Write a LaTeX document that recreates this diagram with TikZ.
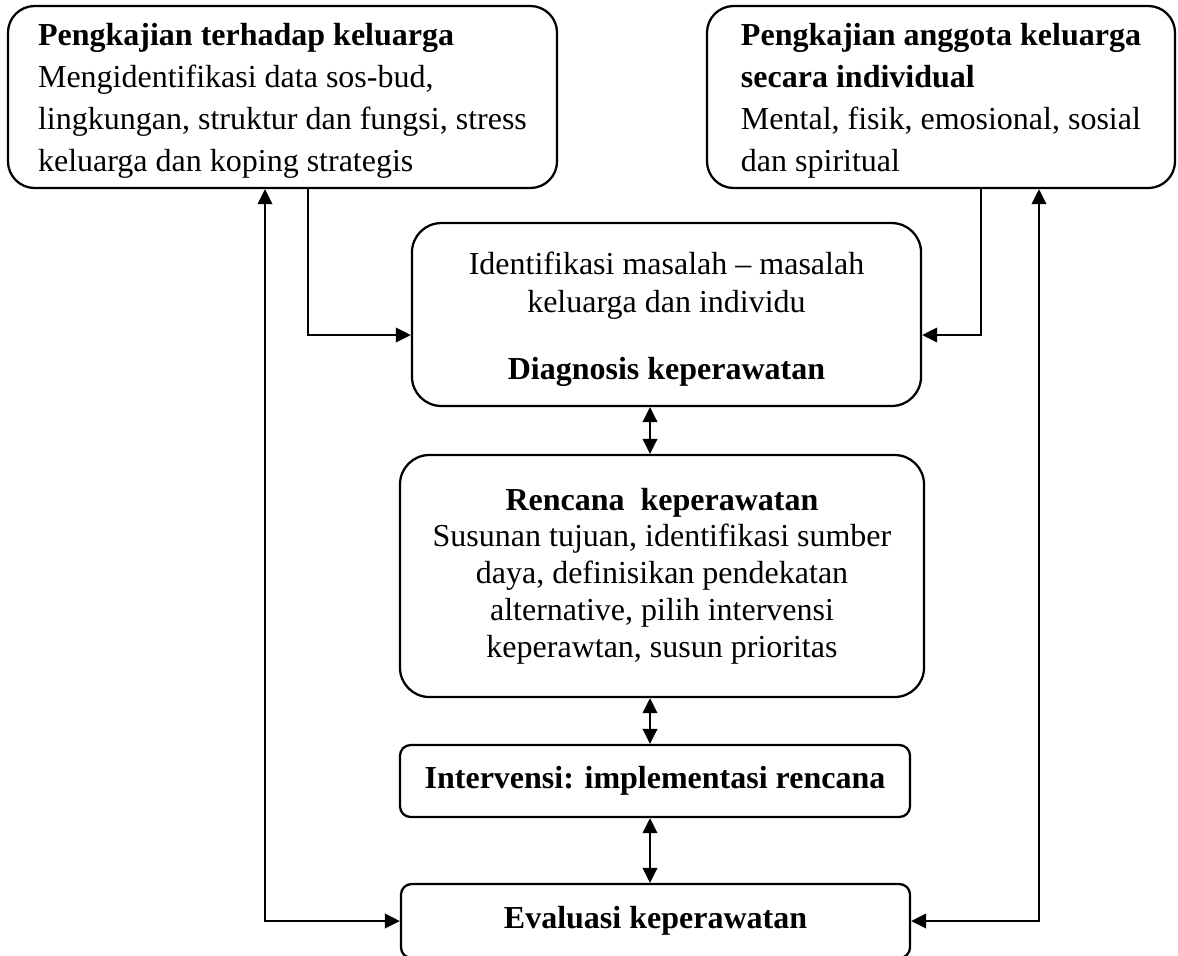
\documentclass[tikz,border=0pt]{standalone}
\usepackage{fontspec}
\setmainfont{Liberation Serif}
\usetikzlibrary{arrows.meta}

\begin{document}
\begin{tikzpicture}[
    x=0.375pt, y=-0.375pt,
    every node/.style={font=\fontsize{12}{13.8}\selectfont},
    loose/.style={font=\fontsize{12}{15.7}\selectfont},
    bigbox/.style={draw, line width=0.85pt, rounded corners=10pt, inner sep=0pt, align=left},
    midbox/.style={draw, line width=0.85pt, rounded corners=11pt, inner sep=0pt, align=center},
    flatbox/.style={draw, line width=0.85pt, rounded corners=4pt, inner sep=0pt, align=center},
    tip/.style={Triangle[length=5.6pt,width=5.4pt]},
    link/.style={line width=0.9pt, -{Triangle[length=5.6pt,width=5.4pt]}},
    twoway/.style={line width=0.9pt, {Triangle[length=5.6pt,width=5.4pt]}-{Triangle[length=5.6pt,width=5.4pt]}}
]
\useasboundingbox (0,0) rectangle (1178,955);
\clip (0,0) rectangle (1178,955);

% assessment boxes
\node[bigbox, loose, minimum width=205.9pt, minimum height=68.25pt] (A) at (282.5,97)
  {\rule{0pt}{11pt}\textbf{Pengkajian terhadap keluarga}\\
   Mengidentifikasi data sos-bud,\\
   lingkungan, struktur dan fungsi, stress\\
   keluarga dan koping strategis};

\node[bigbox, loose, minimum width=175.5pt, minimum height=68.25pt] (B) at (941,97)
  {\rule{0pt}{11pt}\textbf{Pengkajian anggota keluarga}\\
   \textbf{secara individual}\\
   Mental, fisik, emosional, sosial\\
   dan spiritual};

% diagnosis and planning
\node[midbox, font=\fontsize{12}{14.6}\selectfont, minimum width=190.9pt, minimum height=68.6pt] (C) at (666.5,314.5)
  {\rule{0pt}{12pt}Identifikasi masalah -- masalah\\
   keluarga dan individu\\[10.5pt]
   \textbf{Diagnosis keperawatan}};

\node[midbox, minimum width=196.5pt, minimum height=90.75pt] (D) at (662,576)
  {\textbf{Rencana\ \ keperawatan}\\
   Susunan tujuan, identifikasi sumber\\
   daya, definisikan pendekatan\\
   alternative, pilih intervensi\\
   keperawtan, susun prioritas};

% implementation and evaluation
\node[flatbox, minimum width=191.25pt, minimum height=27pt] (E) at (655,781)
  {\textbf{Intervensi: implementasi rencana}};

\node[flatbox, minimum width=190.9pt, minimum height=27.75pt] (F) at (655.5,921)
  {\textbf{Evaluasi keperawatan}};

% guide positions for the connectors
\coordinate (lx) at (265,0);
\coordinate (la) at (308,0);
\coordinate (mx) at (650,0);
\coordinate (rb) at (981,0);
\coordinate (rx) at (1039,0);
\coordinate (jy) at (0,335);

% assessments feed the diagnosis
\draw[link] (A.south -| la) |- (C.west |- jy);
\draw[link] (B.south -| rb) |- (C.east |- jy);

% main chain
\draw[twoway] (C.south -| mx) -- (D.north -| mx);
\draw[twoway] (D.south -| mx) -- (E.north -| mx);
\draw[twoway] (E.south -| mx) -- (F.north -| mx);

% evaluation loops back to the assessments
\draw[twoway] (A.south -| lx) |- (F.west);
\draw[twoway] (B.south -| rx) |- (F.east);
\end{tikzpicture}
\end{document}
